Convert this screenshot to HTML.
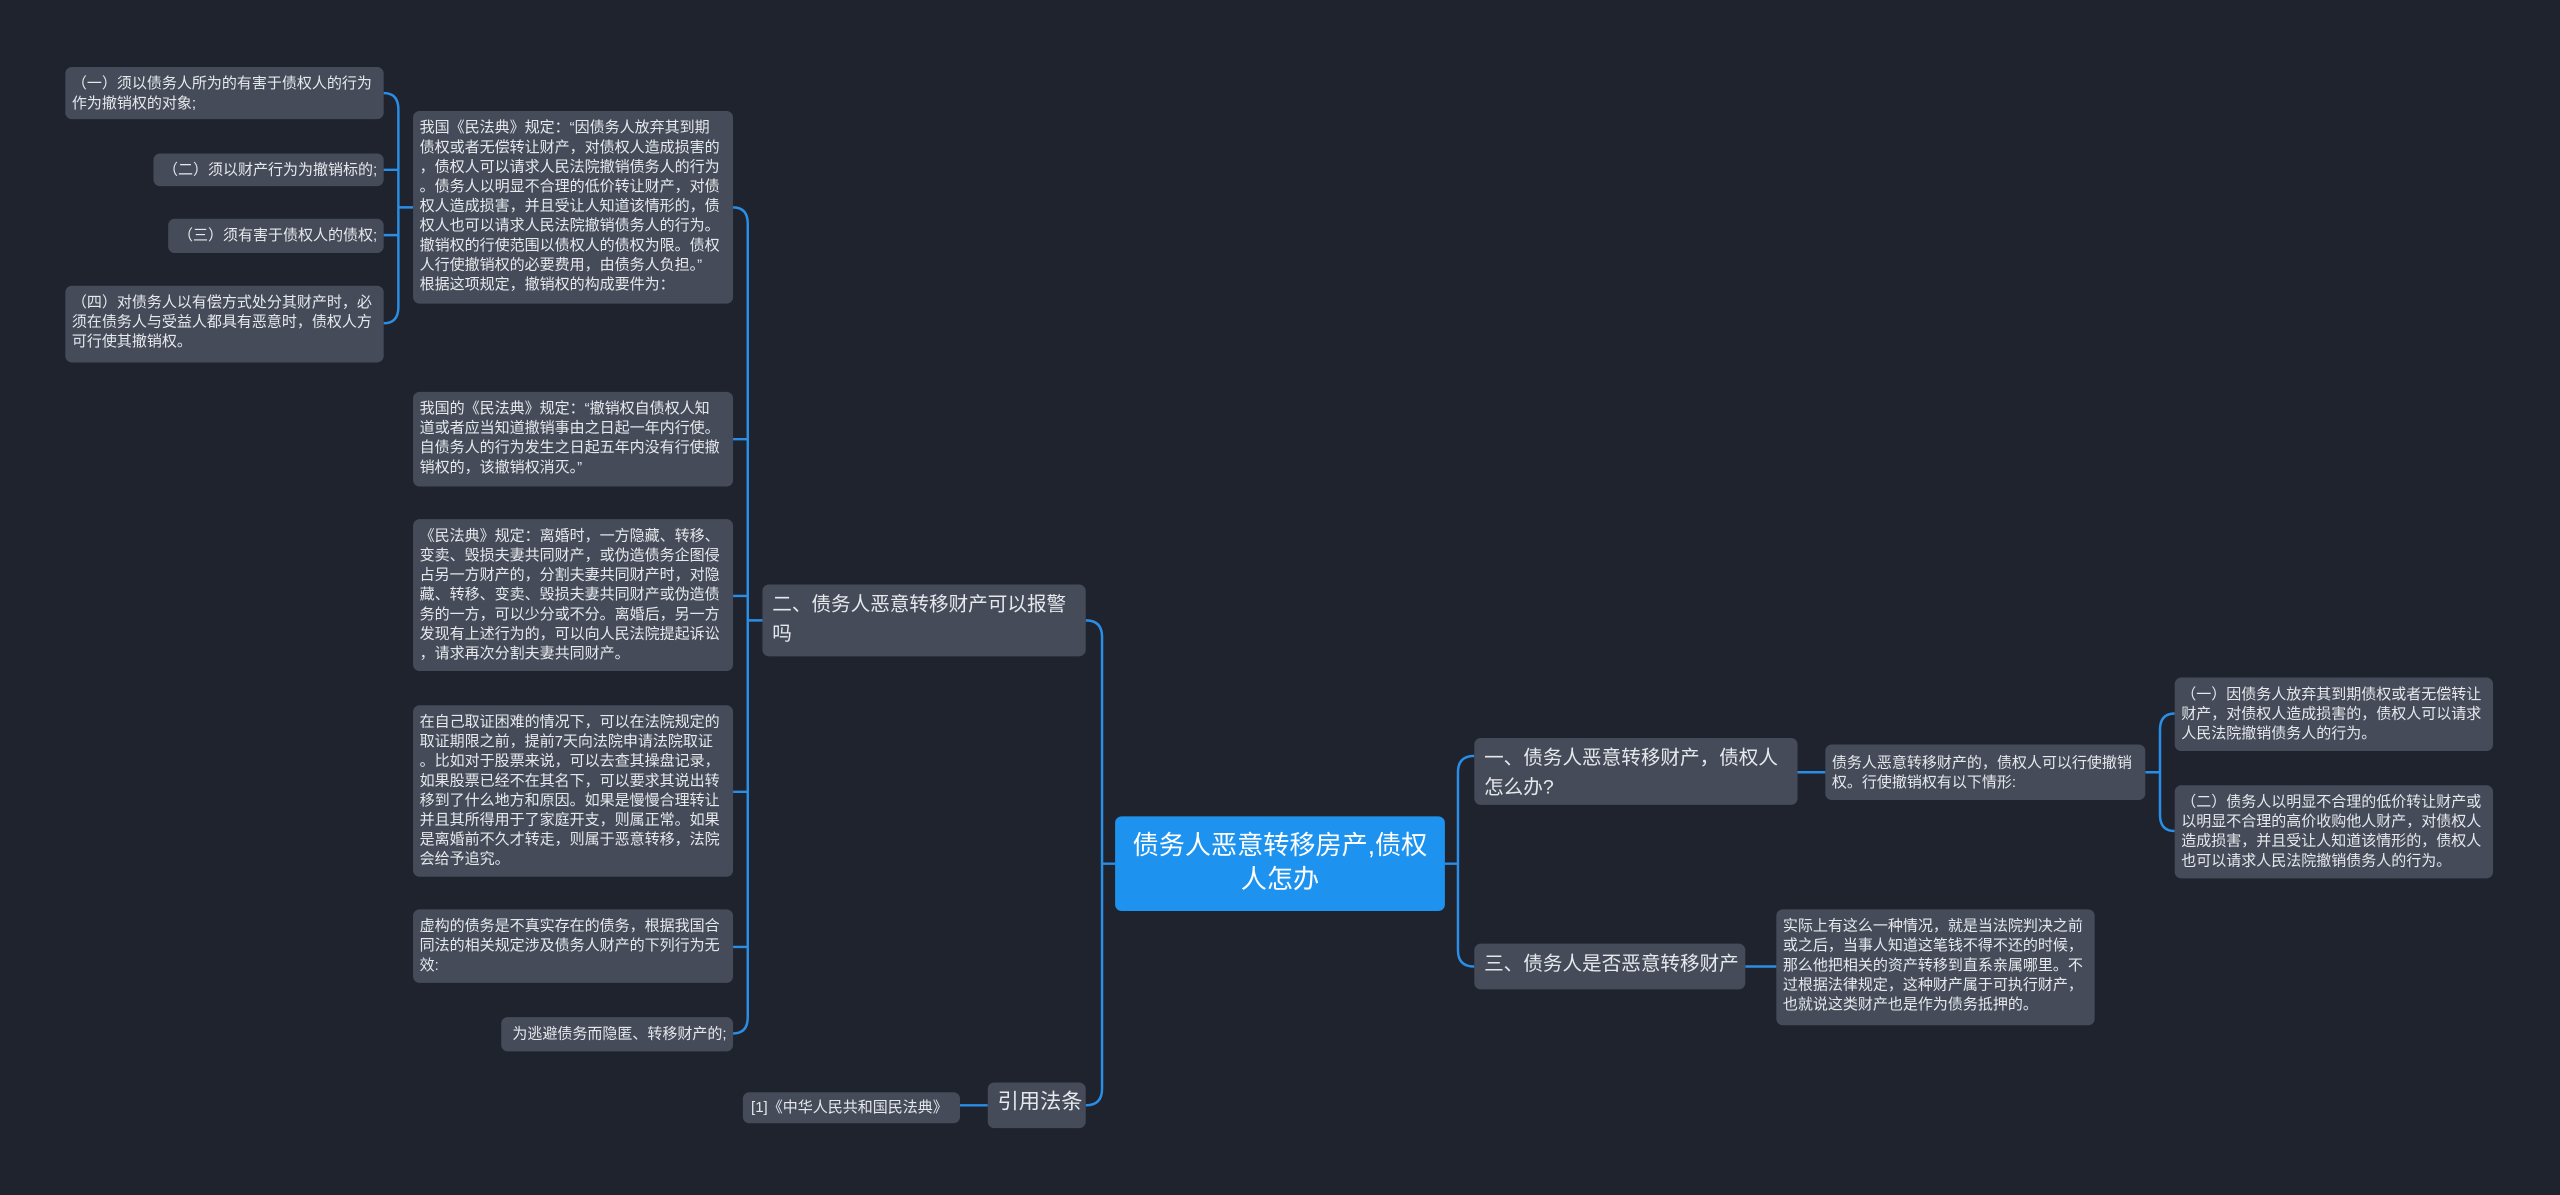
<!DOCTYPE html>
<html><head><meta charset="utf-8"><style>
html,body{margin:0;padding:0;background:#1f232e;width:2560px;height:1195px;overflow:hidden}
#w{position:absolute;left:0;top:0;width:1568px;height:732px;transform:scale(1.632653);transform-origin:0 0;font-family:"Liberation Sans","Noto Sans CJK SC",sans-serif;color:#e6e8ec}
.n{position:absolute;background:#454b59;border-radius:4px;box-sizing:border-box;font-size:9.2px;line-height:12px;padding:4px 4px;white-space:nowrap;overflow:hidden}
.b{font-size:12px;line-height:18px;padding:3px 6px}
svg{position:absolute;left:0;top:0}
</style></head><body><div id="w">
<svg width="1568" height="732" fill="none" stroke="#2a8ee6" stroke-width="1.5">
<path d="M665 380 Q675 380 675 390 V667 Q675 677 665 677 M683 529 H675"/>
<path d="M903 463 Q893 463 893 473 V582 Q893 592 903 592 M885 529 H893"/>
<path d="M1101 473 H1118"/>
<path d="M1314 473 H1323 M1332 437 Q1323 437 1323 447 V499 Q1323 509 1332 509"/>
<path d="M1069 592 H1088"/>
<path d="M605 677 H588"/>
<path d="M467 380 H458 M449 127 Q458 127 458 137 V623 Q458 633 449 633 M449 269 H458 M449 365 H458 M449 485 H458 M449 580 H458"/>
<path d="M253 127 H244 M235 57 Q244 57 244 67 V188 Q244 198 235 198 M235 104 H244 M235 144 H244"/>
</svg>
<div class="n" style="left:683px;top:500px;width:202px;height:58px;background:#1d93ef;color:#fff;font-size:16px;line-height:21px;text-align:center;padding:8px 4px">债务人恶意转移房产,债权<br>人怎办</div>
<div class="n b" style="left:903px;top:452px;width:198px;height:41px">一、债务人恶意转移财产，债权人<br>怎么办?</div>
<div class="n" style="left:1118px;top:456px;width:196px;height:34px;padding:5px 4px">债务人恶意转移财产的，债权人可以行使撤销<br>权。行使撤销权有以下情形:</div>
<div class="n" style="left:1332px;top:415px;width:195px;height:45px">（一）因债务人放弃其到期债权或者无偿转让<br>财产，对债权人造成损害的，债权人可以请求<br>人民法院撤销债务人的行为。</div>
<div class="n" style="left:1332px;top:481px;width:195px;height:57px">（二）债务人以明显不合理的低价转让财产或<br>以明显不合理的高价收购他人财产，对债权人<br>造成损害，并且受让人知道该情形的，债权人<br>也可以请求人民法院撤销债务人的行为。</div>
<div class="n b" style="left:903px;top:578px;width:166px;height:28px">三、债务人是否恶意转移财产</div>
<div class="n" style="left:1088px;top:557px;width:195px;height:71px">实际上有这么一种情况，就是当法院判决之前<br>或之后，当事人知道这笔钱不得不还的时候，<br>那么他把相关的资产转移到直系亲属哪里。不<br>过根据法律规定，这种财产属于可执行财产，<br>也就说这类财产也是作为债务抵押的。</div>
<div class="n b" style="left:467px;top:358px;width:198px;height:44px">二、债务人恶意转移财产可以报警<br>吗</div>
<div class="n b" style="left:605px;top:663px;width:60px;height:28px;font-size:13px">引用法条</div>
<div class="n" style="left:455px;top:669px;width:133px;height:19px;padding:3px 5px">[1]《中华人民共和国民法典》</div>
<div class="n" style="left:253px;top:68px;width:196px;height:118px">我国《民法典》规定：“因债务人放弃其到期<br>债权或者无偿转让财产，对债权人造成损害的<br>，债权人可以请求人民法院撤销债务人的行为<br>。债务人以明显不合理的低价转让财产，对债<br>权人造成损害，并且受让人知道该情形的，债<br>权人也可以请求人民法院撤销债务人的行为。<br>撤销权的行使范围以债权人的债权为限。债权<br>人行使撤销权的必要费用，由债务人负担。”<br>根据这项规定，撤销权的构成要件为：</div>
<div class="n" style="left:253px;top:240px;width:196px;height:58px">我国的《民法典》规定：“撤销权自债权人知<br>道或者应当知道撤销事由之日起一年内行使。<br>自债务人的行为发生之日起五年内没有行使撤<br>销权的，该撤销权消灭。”</div>
<div class="n" style="left:253px;top:318px;width:196px;height:93px">《民法典》规定：离婚时，一方隐藏、转移、<br>变卖、毁损夫妻共同财产，或伪造债务企图侵<br>占另一方财产的，分割夫妻共同财产时，对隐<br>藏、转移、变卖、毁损夫妻共同财产或伪造债<br>务的一方，可以少分或不分。离婚后，另一方<br>发现有上述行为的，可以向人民法院提起诉讼<br>，请求再次分割夫妻共同财产。</div>
<div class="n" style="left:253px;top:432px;width:196px;height:105px">在自己取证困难的情况下，可以在法院规定的<br>取证期限之前，提前7天向法院申请法院取证<br>。比如对于股票来说，可以去查其操盘记录，<br>如果股票已经不在其名下，可以要求其说出转<br>移到了什么地方和原因。如果是慢慢合理转让<br>并且其所得用于了家庭开支，则属正常。如果<br>是离婚前不久才转走，则属于恶意转移，法院<br>会给予追究。</div>
<div class="n" style="left:253px;top:557px;width:196px;height:45px">虚构的债务是不真实存在的债务，根据我国合<br>同法的相关规定涉及债务人财产的下列行为无<br>效:</div>
<div class="n" style="left:307px;top:623px;width:142px;height:21px;padding:4px 4px;text-align:right">为逃避债务而隐匿、转移财产的;</div>
<div class="n" style="left:40px;top:41px;width:195px;height:32px">（一）须以债务人所为的有害于债权人的行为<br>作为撤销权的对象;</div>
<div class="n" style="left:94px;top:94px;width:141px;height:20px;text-align:right">（二）须以财产行为为撤销标的;</div>
<div class="n" style="left:103px;top:134px;width:132px;height:21px;text-align:right">（三）须有害于债权人的债权;</div>
<div class="n" style="left:40px;top:175px;width:195px;height:47px">（四）对债务人以有偿方式处分其财产时，必<br>须在债务人与受益人都具有恶意时，债权人方<br>可行使其撤销权。</div>
</div></body></html>
